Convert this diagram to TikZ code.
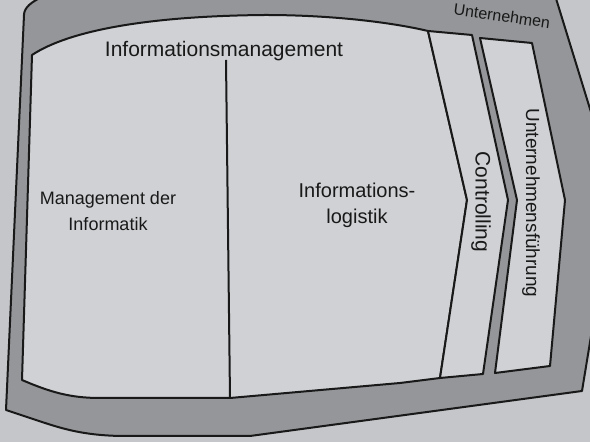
\documentclass[tikz,border=0pt]{standalone}
\usepackage{fontspec}
\setmainfont{Liberation Sans}
\definecolor{pagegrey}{RGB}{196,198,201}
\definecolor{bandgrey}{RGB}{148,150,153}
\definecolor{boxgrey}{RGB}{207,209,212}

\begin{document}
\begin{tikzpicture}[x=0.5pt,y=-0.5pt,
	frame/.style={draw=black!90,line width=1pt,line join=round},
	band/.style={frame,fill=bandgrey},
	box/.style={frame,fill=boxgrey},
	lbl/.style={inner sep=0pt,text=black!90}]
		\clip (0,0) rectangle (590,442);
		\fill[pagegrey] (0,0) rectangle (590,442);
		\draw[band] (6,410) -- (24,15) .. controls (24,8) and (31,2) .. (42,-3) -- (200,-12) -- (554,-8) -- (615,190) -- (582,391) -- (250,436) -- (120,436) .. controls (80,435) and (60,428) .. (33,419) -- cycle;
		\draw[box] (32,55) .. controls (70,30) and (150,16) .. (265,15) .. controls (330,15) and (390,22) .. (428,31) -- (467,200) -- (440,378) -- (400,383) -- (230,398) -- (100,398) .. controls (70,398) and (50,392) .. (22,380) -- cycle;
		\draw[box] (428,31) -- (472,35) -- (508,200) -- (483,374) -- (440,378) -- (467,200) -- cycle;
		\draw[box] (480,38) -- (532,43) -- (565,200) -- (550,366) -- (495,373) -- (517,200) -- cycle;
		\draw[frame] (226,60) -- (230,398);
		\node[lbl,font=\fontsize{10.5}{12.6}\selectfont,anchor=base] (im) at (224,57) {Informationsmanagement};
		\node[lbl,font=\fontsize{9}{13}\selectfont,align=center] (mdi) at (108,211) {Management der\\Informatik};
		\node[lbl,font=\fontsize{10}{13}\selectfont,align=center] (il) at (357,205) {Informations-\\logistik};
		\node[lbl,font=\fontsize{10.5}{12}\selectfont,rotate=-90] (co) at (481,202) {Controlling};
		\node[lbl,font=\fontsize{9.5}{12}\selectfont,rotate=-90] (uf) at (531,203) {Unternehmensführung};
		\node[lbl,font=\fontsize{8}{9}\selectfont,rotate=-8] (un) at (502,16) {Unternehmen};
\end{tikzpicture}
\end{document}
